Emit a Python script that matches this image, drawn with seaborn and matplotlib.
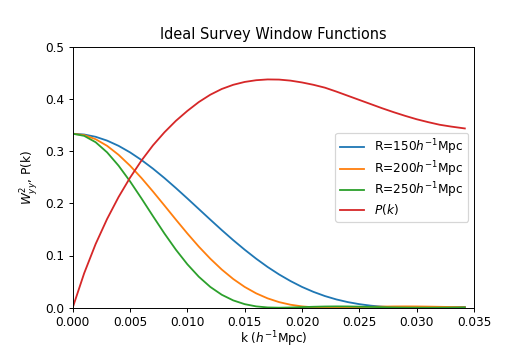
import matplotlib
matplotlib.use("Agg")
import matplotlib.pyplot as plt
import numpy as np
import pandas as pd
import seaborn as sns

# Wavenumber samples (h/Mpc)
k = [0.000, 0.001, 0.002, 0.003, 0.004, 0.005, 0.006, 0.007, 0.008, 0.009,
     0.010, 0.011, 0.012, 0.013, 0.014, 0.015, 0.016, 0.017, 0.018, 0.019,
     0.020, 0.021, 0.022, 0.023, 0.024, 0.025, 0.026, 0.027, 0.028, 0.029,
     0.030, 0.031, 0.032, 0.033, 0.034, 0.0342]

# Squared window W_yy^2 for three survey radii
w_r150 = [0.3333, 0.3318, 0.3274, 0.3201, 0.3101, 0.2976, 0.2829, 0.2664, 0.2484, 0.2292,
          0.2093, 0.1890, 0.1687, 0.1487, 0.1294, 0.1111, 0.0939, 0.0780, 0.0637, 0.0510,
          0.0398, 0.0303, 0.0223, 0.0158, 0.0107, 0.0068, 0.0039, 0.0020, 0.0008, 0.0002,
          0.0000, 0.0001, 0.0005, 0.0009, 0.0014, 0.0015]
w_r200 = [0.3333, 0.3307, 0.3228, 0.3101, 0.2929, 0.2721, 0.2484, 0.2226, 0.1958, 0.1687,
          0.1422, 0.1170, 0.0939, 0.0731, 0.0550, 0.0398, 0.0275, 0.0179, 0.0107, 0.0057,
          0.0025, 0.0008, 0.0001, 0.0001, 0.0005, 0.0011, 0.0017, 0.0021, 0.0024, 0.0025,
          0.0024, 0.0021, 0.0017, 0.0013, 0.0009, 0.0008]
w_r250 = [0.3333, 0.3292, 0.3170, 0.2976, 0.2721, 0.2421, 0.2093, 0.1754, 0.1422, 0.1111,
          0.0832, 0.0593, 0.0398, 0.0248, 0.0140, 0.0068, 0.0025, 0.0005, 0.0000, 0.0004,
          0.0011, 0.0018, 0.0023, 0.0025, 0.0024, 0.0020, 0.0015, 0.0010, 0.0005, 0.0002,
          0.0001, 0.0000, 0.0001, 0.0002, 0.0003, 0.0003]

# Matter power spectrum (arbitrary normalisation)
p_k = [0.000, 0.066, 0.122, 0.170, 0.212, 0.249, 0.282, 0.311, 0.336, 0.358,
       0.377, 0.394, 0.408, 0.419, 0.427, 0.4325, 0.4358, 0.4373, 0.4370, 0.4350,
       0.4315, 0.4270, 0.4215, 0.4140, 0.4060, 0.3980, 0.3900, 0.3820, 0.3745, 0.3675,
       0.3610, 0.3555, 0.3505, 0.3470, 0.3440, 0.3434]

labels = [r"R=150$h^{-1}$Mpc", r"R=200$h^{-1}$Mpc", r"R=250$h^{-1}$Mpc", r"$P(k)$"]
series = [w_r150, w_r200, w_r250, p_k]
colors = ["#1f77b4", "#ff7f0e", "#2ca02c", "#d62728"]

df = pd.concat(
    [pd.DataFrame({"k": k, "value": vals, "curve": lab}) for lab, vals in zip(labels, series)],
    ignore_index=True,
)

W, H, DPI = 521, 348, 87
fig = plt.figure(figsize=(W / DPI, H / DPI), dpi=DPI)
ax = fig.add_axes([72.7 / W, 1 - 307.7 / H, 401.3 / W, 261.0 / H])

sns.lineplot(data=df, x="k", y="value", hue="curve", hue_order=labels,
             palette=colors, estimator=None, sort=False, legend=False,
             linewidth=1.5, ax=ax)

ticks_x = np.arange(0, 0.0351, 0.005)
ax.set_xlim(0, 0.035)
ax.set_ylim(0, 0.5)
ax.set_xticks(ticks_x)
ax.set_xticklabels([f"{t:.3f}" for t in ticks_x])
ax.set_yticks([0.0, 0.1, 0.2, 0.3, 0.4, 0.5])
ax.set_yticklabels(["0.0", "0.1", "0.2", "0.3", "0.4", "0.5"])
ax.set_xlabel(r"k ($h^{-1}$Mpc)", labelpad=0)
ax.set_ylabel(r"$W^2_{yy}$, P(k)")
ax.set_title("Ideal Survey Window Functions")
ax.legend(ax.lines[:4], labels, loc="center right", labelspacing=0.15)

fig.savefig("out.png", dpi=DPI)
